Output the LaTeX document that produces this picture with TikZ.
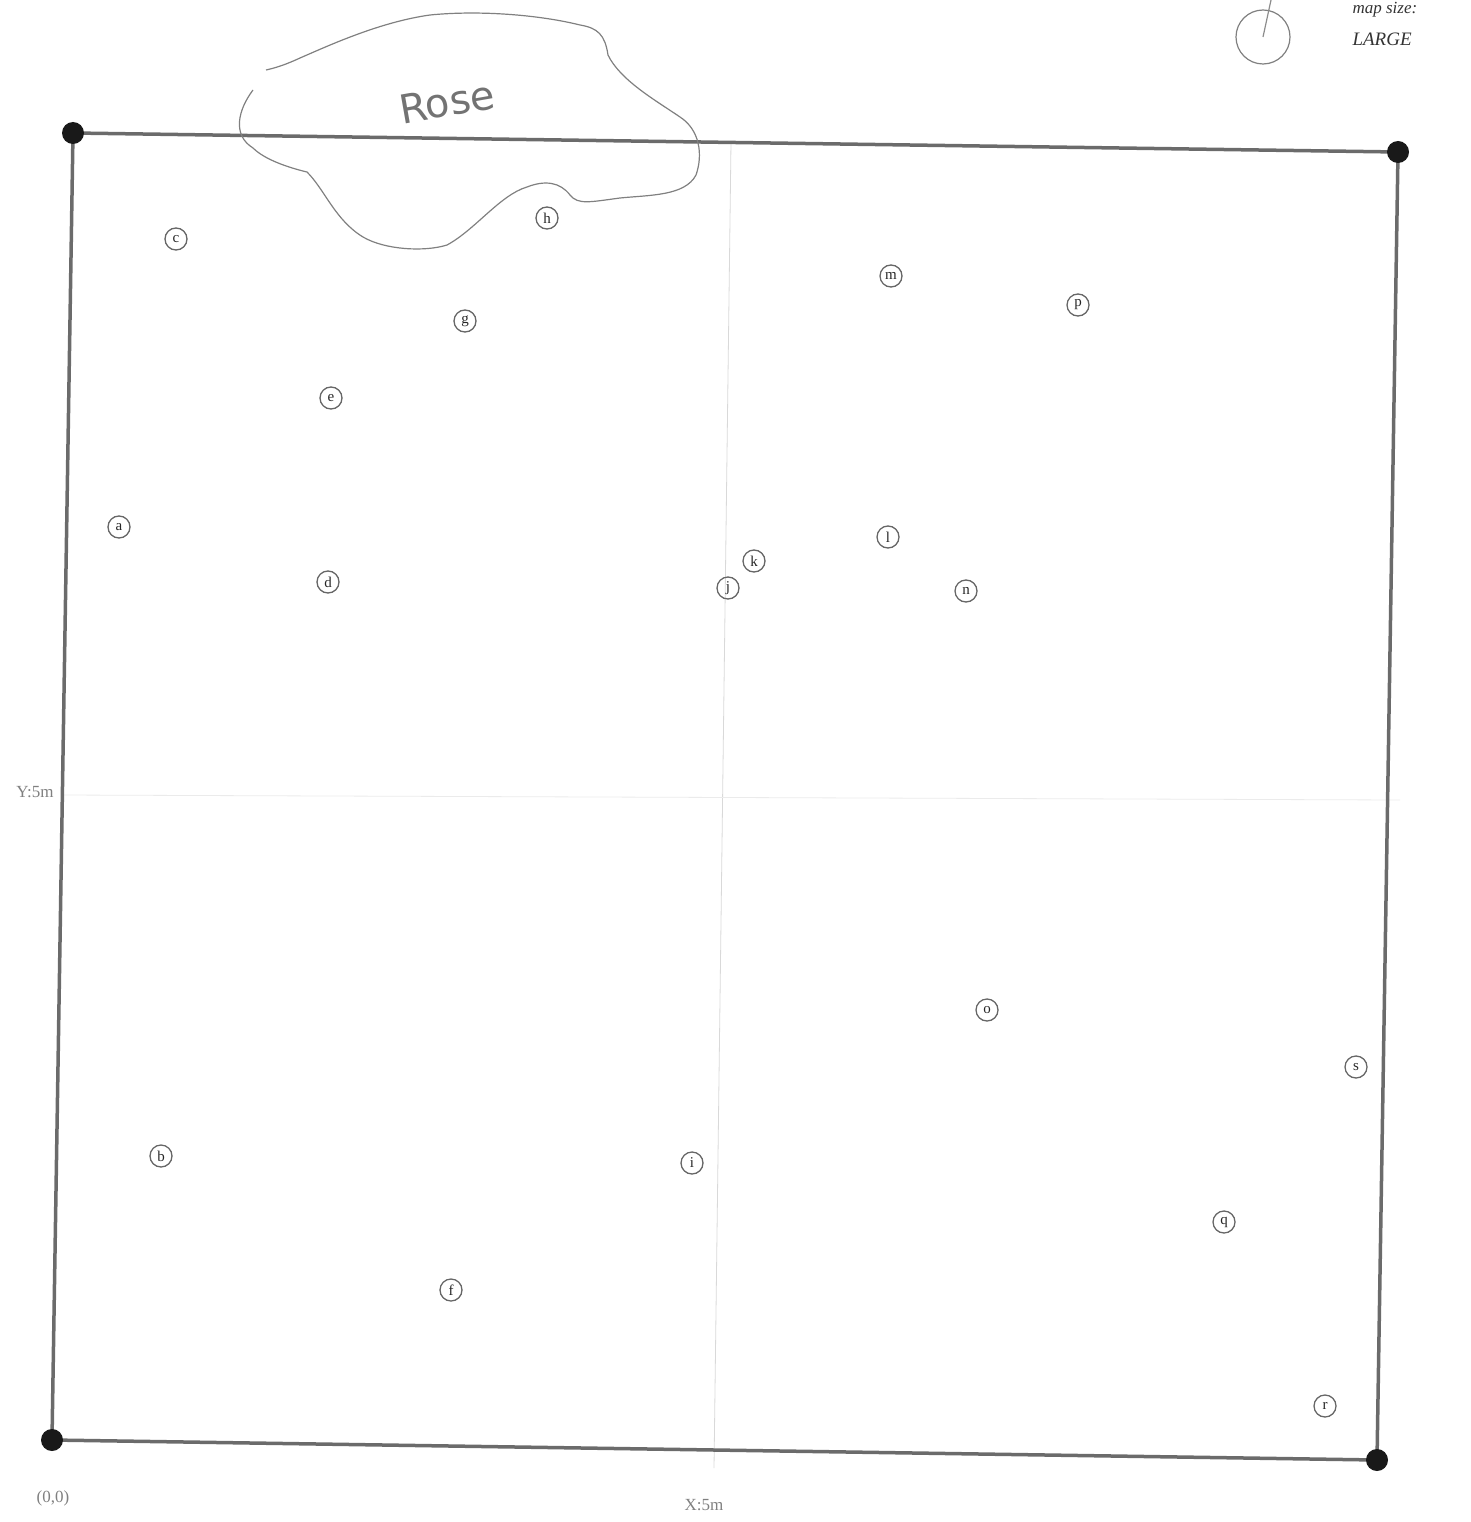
\documentclass[tikz,border=0pt]{standalone}
\usepackage{fontspec}
\setmainfont{Liberation Serif}
\newfontfamily\handfont{DejaVu Sans}
\begin{document}
\begin{tikzpicture}[x=1pt,y=-1pt,
  frame/.style={draw=black!58,line width=3.5pt},
  corner/.style={circle,fill=black!90,minimum size=22pt,inner sep=0pt},
  tree/.style={circle,draw=black!60,line width=1.3pt,minimum size=22pt,inner sep=0pt,font=\fontsize{15}{15}\selectfont,text=black!85},
  lbl/.style={font=\fontsize{17}{17}\selectfont,text=black!50},
  guide/.style={draw=black!15,line width=0.8pt}]
\useasboundingbox (0,0) rectangle (1470,1522);
% faint guide lines
\coordinate (vt) at (731,142);
\coordinate (vb) at (714,1468);
\coordinate (hl) at (62,795);
\coordinate (hr) at (1400,800);
\draw[guide] (vt) -- (vb);
\draw[guide,draw=black!8] (hl) -- (hr);
% frame
\coordinate (TL) at (73,133);
\coordinate (TR) at (1398,152);
\coordinate (BR) at (1377,1460);
\coordinate (BL) at (52,1440);
\draw[frame] (TL) -- (TR) -- (BR) -- (BL) -- cycle;
\node[corner] (cTL) at (TL) {};
\node[corner] (cTR) at (TR) {};
\node[corner] (cBR) at (BR) {};
\node[corner] (cBL) at (BL) {};
% rose outline
\draw[black!50,line width=1.2pt] (253,90) .. controls (238,110) and (232,135) .. (253,148)
  .. controls (265,160) and (290,168) .. (307,172)
  .. controls (325,190) and (335,220) .. (363,237)
  .. controls (385,250) and (425,252) .. (447,245)
  .. controls (475,230) and (500,195) .. (527,187)
  .. controls (545,180) and (560,182) .. (570,195)
  .. controls (578,205) and (590,202) .. (620,198)
  .. controls (650,195) and (685,196) .. (696,175)
  .. controls (703,155) and (700,130) .. (680,117)
  .. controls (655,100) and (620,80) .. (608,55)
  .. controls (605,35) and (598,28) .. (580,25)
  .. controls (540,15) and (480,10) .. (430,15)
  .. controls (380,22) and (330,45) .. (300,58)
  .. controls (285,65) and (275,68) .. (266,70);
\node[font=\handfont\fontsize{40}{40}\selectfont,text=black!55,rotate=10,inner sep=0pt] (rose) at (447,102) {Rose};
% trees
\node[tree] (a) at (119,527) {a};
\node[tree] (b) at (161,1156) {b};
\node[tree] (c) at (176,239) {c};
\node[tree] (d) at (328,582) {d};
\node[tree] (e) at (331,398) {e};
\node[tree] (f) at (451,1290) {f};
\node[tree] (g) at (465,321) {g};
\node[tree] (h) at (547,218) {h};
\node[tree] (i) at (692,1163) {i};
\node[tree] (j) at (728,588) {j};
\node[tree] (k) at (754,561) {k};
\node[tree] (l) at (888,537) {l};
\node[tree] (m) at (891,276) {m};
\node[tree] (n) at (966,591) {n};
\node[tree] (o) at (987,1010) {o};
\node[tree] (p) at (1078,305) {p};
\node[tree] (q) at (1224,1222) {q};
\node[tree] (r) at (1325,1406) {r};
\node[tree] (s) at (1356,1067) {s};
% axis labels
\node[lbl] (ylab) at (35,792) {Y:5m};
\node[lbl] (orig) at (53,1498) {(0,0)};
\node[lbl] (xlab) at (704,1505) {X:5m};
% map size
\node[circle,draw=black!50,line width=1.2pt,minimum size=54pt,inner sep=0pt] (dial) at (1263,37) {};
\coordinate (needle) at (1271,0);
\draw[black!45,line width=1.2pt] (needle) -- (dial.center);
\node[font=\itshape\fontsize{17}{17}\selectfont,text=black!80,anchor=west] (ms) at (1349,10) {map size:};
\node[font=\itshape\fontsize{19}{19}\selectfont,text=black!80,anchor=west] (large) at (1349,39) {LARGE};
\end{tikzpicture}
\end{document}
